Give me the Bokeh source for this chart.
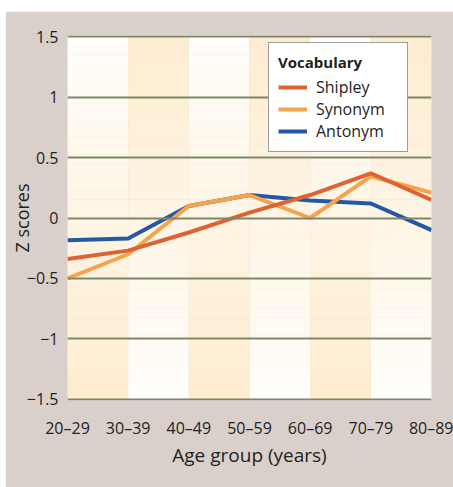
from bokeh.plotting import figure
from bokeh.layouts import column, row
from bokeh.models import FixedTicker, Legend, LegendItem, CustomJSTickFormatter, Spacer
from bokeh.embed import file_html
from bokeh.resources import INLINE

age_groups = ["20–29", "30–39", "40–49", "50–59", "60–69", "70–79", "80–89"]
shipley = [-0.34, -0.27, -0.12, 0.045, 0.19, 0.37, 0.15]
synonym = [-0.50, -0.30, 0.10, 0.19, 0.0, 0.345, 0.21]
antonym = [-0.185, -0.17, 0.10, 0.19, 0.145, 0.12, -0.10]
y_ticks = [-1.5, -1.0, -0.5, 0.0, 0.5, 1.0, 1.5]
y_tick_labels = ["−1.5", "−1", "−0.5", "0", "0.5", "1", "1.5"]

BG = "#d9cfcb"
FONT = "Open Sans"
TXT = "#231f20"

x = list(range(len(age_groups)))
ymin, ymax = y_ticks[0], y_ticks[-1]

p = figure(width=448, height=476, output_backend="svg", toolbar_location=None,
           x_range=(x[0], x[-1]), y_range=(ymin - 0.01, ymax + 0.01),
           min_border_left=62, min_border_right=22, min_border_top=24, min_border_bottom=87)
p.border_fill_color = BG
p.background_fill_color = BG
p.outline_line_color = None

# gradient bands
white = (255, 254, 251)
orange = (254, 236, 207)
N = 40
def mix(a, b, t):
    return "#%02x%02x%02x" % tuple(int(round(a[i] + (b[i] - a[i]) * t)) for i in range(3))
L, R, B, T, C = [], [], [], [], []
for i in range(len(x) - 1):
    for k in range(N):
        y0 = ymin + (ymax - ymin) * k / N
        y1 = ymin + (ymax - ymin) * (k + 1) / N
        t = (k + 0.5) / N  # 0 bottom -> 1 top
        if i % 2 == 0:
            col = mix(orange, white, t)
        else:
            col = mix(white, orange, t)
        L.append(x[i]); R.append(x[i + 1]); B.append(y0); T.append(y1 + 0.002); C.append(col)
p.quad(left=L, right=R, bottom=B, top=T, fill_color=C, line_color=None)

p.xgrid.grid_line_color = None
p.ygrid.ticker = FixedTicker(ticks=y_ticks)
p.ygrid.grid_line_color = "#7b8767"
p.ygrid.grid_line_width = 2
p.ygrid.level = "glyph"

r_ant = p.line(x, antonym, line_color="#2457a8", line_width=4)
r_syn = p.line(x, synonym, line_color="#f5a34c", line_width=4)
r_shp = p.line(x, shipley, line_color="#de6232", line_width=4)

p.xaxis.ticker = FixedTicker(ticks=x)
p.xaxis.formatter = CustomJSTickFormatter(args=dict(names=age_groups),
                                          code="const n = names[Math.round(tick)]; return n === undefined ? '' : n;")
p.yaxis.ticker = FixedTicker(ticks=y_ticks)
p.yaxis.formatter = CustomJSTickFormatter(
    args=dict(tvals=y_ticks, tlabs=y_tick_labels),
    code="const i = tvals.findIndex(t => Math.abs(t - tick) < 1e-9); return i >= 0 ? tlabs[i] : '';")
for ax in (p.xaxis, p.yaxis):
    ax.axis_line_color = None
    ax.major_tick_line_color = None
    ax.minor_tick_line_color = None
    ax.major_tick_out = 0
    ax.major_tick_in = 0
    ax.major_label_text_font = FONT
    ax.major_label_text_font_size = "16px"
    ax.major_label_text_color = TXT
    ax.axis_label_text_font = FONT
    ax.axis_label_text_font_style = "normal"
    ax.axis_label_text_color = TXT
p.xaxis.axis_label_text_font_size = "19px"
p.yaxis.axis_label_text_font_size = "18px"
p.xaxis.major_label_standoff = 16
p.yaxis.major_label_standoff = 9
p.xaxis.axis_label = "Age group (years)"
p.yaxis.axis_label = "Z scores"
p.xaxis.axis_label_standoff = 0
p.yaxis.axis_label_standoff = -10

legend = Legend(items=[LegendItem(label="Shipley", renderers=[r_shp]),
                       LegendItem(label="Synonym", renderers=[r_syn]),
                       LegendItem(label="Antonym", renderers=[r_ant])],
                location=(201, 248), title="Vocabulary")
legend.title_text_font = FONT
legend.title_text_font_style = "bold"
legend.title_text_font_size = "15px"
legend.title_text_color = TXT
legend.title_standoff = 4
legend.label_text_font = FONT
legend.label_text_font_size = "16px"
legend.label_text_color = TXT
legend.glyph_width = 29
legend.glyph_height = 20
legend.label_height = 20
legend.label_width = 82
legend.spacing = -1
legend.label_standoff = 9
legend.padding = 9
legend.margin = 0
legend.border_line_color = "#3a3a3a"
legend.border_line_width = 1.5
legend.background_fill_color = "white"
legend.background_fill_alpha = 1
p.add_layout(legend)

layout = column(Spacer(width=453, height=11), row(Spacer(width=5, height=476), p))
open("out.html", "w").write(file_html(layout, INLINE))
